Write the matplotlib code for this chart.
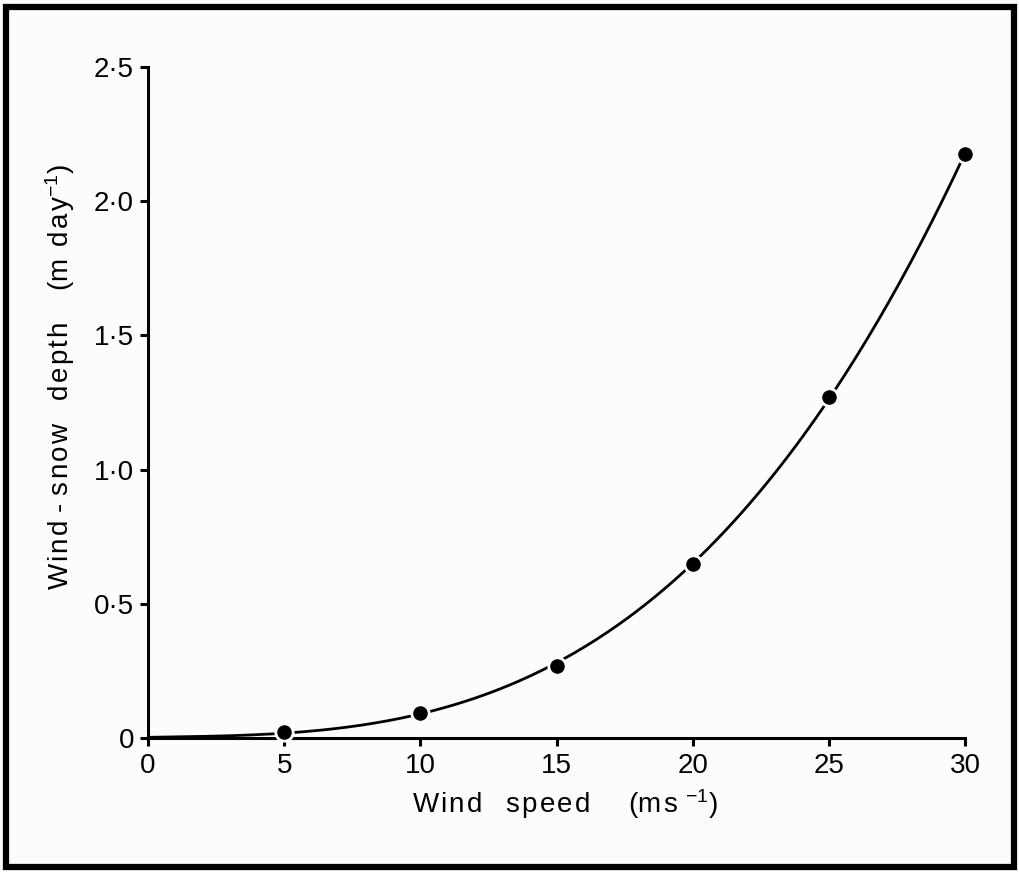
import numpy as np
import matplotlib
matplotlib.use("Agg")
import matplotlib.pyplot as plt
from matplotlib.patches import Rectangle

plt.rcParams['font.family'] = ['Liberation Sans', 'DejaVu Sans']
plt.rcParams['mathtext.fontset'] = 'custom'
plt.rcParams['mathtext.rm'] = 'Liberation Sans'
plt.rcParams['mathtext.it'] = 'Liberation Sans'

# wind speed (m/s) and wind-snow depth (m/day)
speed = [5, 10, 15, 20, 25, 30]
depth = [0.022, 0.094, 0.27, 0.65, 1.27, 2.175]

xticks = [0, 5, 10, 15, 20, 25, 30]
yticks = [0, 0.5, 1.0, 1.5, 2.0, 2.5]
ylabels = ['0', '0·5', '1·0', '1·5', '2·0', '2·5']


def spaced(s):
    # loose letter spacing for the axis titles
    return '\u200a'.join(s)


fig = plt.figure(figsize=(10.2, 8.72), dpi=100)
fig.patch.set_facecolor('#fcfcfc')
ax = fig.add_axes([0.1451, 0.1537, 0.801, 0.7695])
ax.set_facecolor('#fcfcfc')

# smooth curve: cubic fit through the origin and the measured points
fx = np.array([0] + speed)
fy = np.array([0] + depth)
coef = np.polyfit(fx, fy, 3)
xs = np.linspace(0, 30, 300)
ax.plot(xs, np.clip(np.polyval(coef, xs), 0, None), color='black', lw=2.0, zorder=2)
ax.plot(speed, depth, 'o', color='black', ms=12.5, mec='#fcfcfc', mew=2, zorder=3,
        clip_on=False)

ax.set_xlim(0, 30)
ax.set_ylim(0, 2.5)
ax.set_xticks(xticks)
ax.set_xticklabels([str(t) for t in xticks])
ax.set_yticks(yticks)
ax.set_yticklabels(ylabels)

for s in ['top', 'right']:
    ax.spines[s].set_visible(False)
for s in ['left', 'bottom']:
    ax.spines[s].set_linewidth(2.2)
ax.tick_params(direction='out', length=6, width=2.2, labelsize=20)
ax.tick_params(axis='x', pad=5)
ax.tick_params(axis='y', pad=4)

ax.set_xlabel(spaced('Wind') + '   ' + spaced('speed') + '     (' + spaced('ms') + ' $^{-1}$)',
              fontsize=20)
ax.set_ylabel(spaced('Wind') + ' - ' + spaced('snow') + '   ' + spaced('depth') + '    ('
              + spaced('m day') + '$^{-1}$)', fontsize=20)
ax.xaxis.set_label_coords(0.51, -0.073)
ax.yaxis.set_label_coords(-0.087, 0.538)

# frame around the whole figure
fig.patches.append(Rectangle((0.006, 0.006), 0.988, 0.986, transform=fig.transFigure,
                             fill=False, lw=4.5, edgecolor='black'))

fig.savefig('out.png', dpi=100, facecolor=fig.get_facecolor())
